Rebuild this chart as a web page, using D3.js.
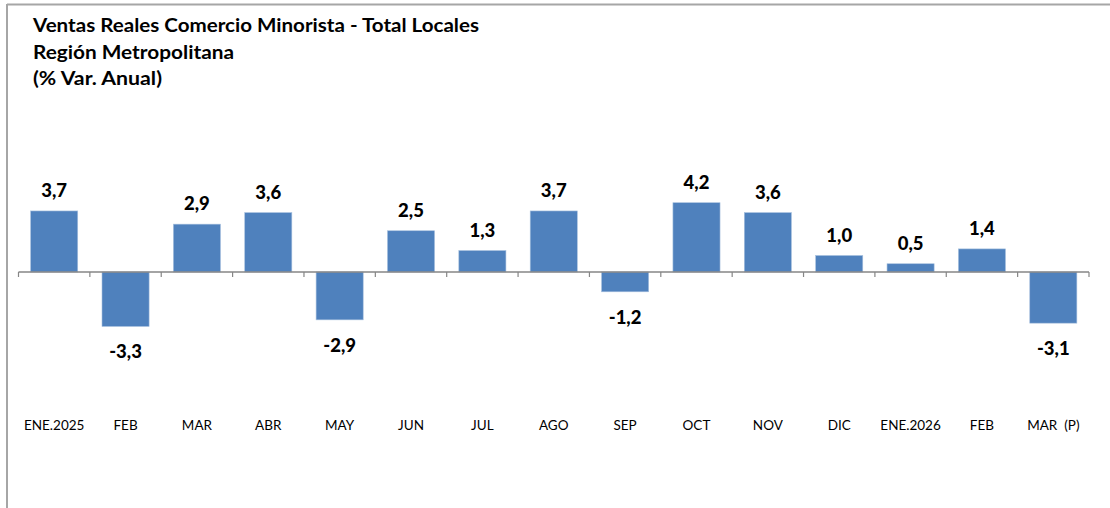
<!DOCTYPE html>
<html><head><meta charset="utf-8">
<script src="https://cdn.jsdelivr.net/npm/d3@7"></script>
<style>html,body{margin:0;padding:0;background:#fff;} svg{display:block;}</style>
</head><body>
<svg id="chart" width="1110" height="508"></svg>
<script>
const categories = ["ENE.2025","FEB","MAR","ABR","MAY","JUN","JUL","AGO","SEP","OCT","NOV","DIC","ENE.2026","FEB","MAR  (P)"];
const values = [3.7,-3.3,2.9,3.6,-2.9,2.5,1.3,3.7,-1.2,4.2,3.6,1.0,0.5,1.4,-3.1];
const valueLabels = ["3,7","-3,3","2,9","3,6","-2,9","2,5","1,3","3,7","-1,2","4,2","3,6","1,0","0,5","1,4","-3,1"];
const titleLines = ["Ventas Reales Comercio Minorista - Total Locales","Región Metropolitana","(% Var. Anual)"];

const svg = d3.select("#chart");
const FONT = "Lato, 'Open Sans', sans-serif";

// frame
svg.append("line").attr("x1",7).attr("x2",1110).attr("y1",4.5).attr("y2",4.5).attr("stroke","#a6a6a6").attr("stroke-width",2);
svg.append("line").attr("x1",7).attr("x2",7).attr("y1",4).attr("y2",508).attr("stroke","#a6a6a6").attr("stroke-width",2);

// title
const tY = [32,59,85];
const tLen = [446, 201, 129];
svg.selectAll("text.title").data(titleLines).join("text")
  .attr("class","title").attr("x",33).attr("y",(d,i)=>tY[i])
  .attr("font-family",FONT).attr("font-weight","bold").attr("font-size",18)
  .attr("textLength",(d,i)=>tLen[i]).attr("lengthAdjust","spacingAndGlyphs")
  .attr("fill","#000").text(d=>d);

const idx = d3.range(categories.length);
const x = d3.scaleBand().domain(idx).range([18.5,1089]).paddingInner(0.34).paddingOuter(0.17);
const y = d3.scaleLinear().domain([-4,5]).range([338,189.5]);

// bars
svg.selectAll("rect.bar").data(idx).join("rect").attr("class","bar")
  .attr("x",i=>x(i)).attr("width",x.bandwidth())
  .attr("y",i=>y(Math.max(0,values[i]))).attr("height",i=>Math.abs(y(values[i])-y(0)))
  .attr("fill","#4f81bd").attr("stroke","#a7c0de").attr("stroke-width",0.6);

// axis
const step = x.step();
const x0 = 18.5;
svg.append("line").attr("x1",x0).attr("x2",1089).attr("y1",y(0)).attr("y2",y(0)).attr("stroke","#868686").attr("stroke-width",1.5);
svg.selectAll("line.tick").data(d3.range(categories.length+1)).join("line").attr("class","tick")
  .attr("x1",k=>x0+k*step).attr("x2",k=>x0+k*step).attr("y1",y(0)).attr("y2",y(0)+5)
  .attr("stroke","#868686").attr("stroke-width",1.2);

// value labels
svg.selectAll("text.val").data(idx).join("text").attr("class","val")
  .attr("x",i=>x(i)+x.bandwidth()/2)
  .attr("y",i=>values[i]>=0 ? y(values[i])-14 : y(values[i])+32)
  .attr("text-anchor","middle").attr("font-family",FONT).attr("font-weight","900").attr("font-size",18.5)
  .attr("fill","#000").text(i=>valueLabels[i]);

// category labels
svg.selectAll("text.cat").data(idx).join("text").attr("class","cat")
  .attr("x",i=>x(i)+x.bandwidth()/2).attr("y",430)
  .attr("text-anchor","middle").attr("font-family",FONT).attr("font-size",13.5)
  .attr("fill","#000").style("white-space","pre").text(i=>categories[i]);
</script>
</body></html>
